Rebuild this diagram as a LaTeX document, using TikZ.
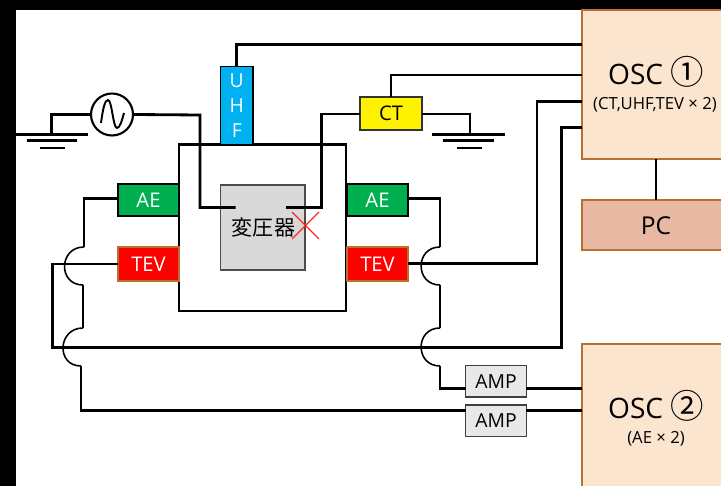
\documentclass[tikz,border=0pt]{standalone}
\usepackage{fontspec}
\setmainfont{Open Sans}
\newfontfamily\cjk{Noto Sans CJK JP}
\usepackage{xcolor}
\definecolor{oscfill}{HTML}{FBE5CE}
\definecolor{oscline}{HTML}{B8702F}
\definecolor{pcfill}{HTML}{E9B8A2}
\definecolor{ampfill}{HTML}{E7E9E6}
\definecolor{aegreen}{HTML}{00B050}
\definecolor{uhfblue}{HTML}{00B0F0}
\definecolor{coregray}{HTML}{D9D9D9}

\begin{document}
\begin{tikzpicture}[
    x=0.02cm, y=-0.02cm,
    box/.style={rectangle, draw=black, line width=1pt, inner sep=0pt, outer sep=0pt, align=center},
    sensor/.style={box, minimum width=1.22cm, font=\fontsize{11.5}{13}\selectfont},
    osc/.style={box, draw=oscline, fill=oscfill, minimum width=3cm},
    amp/.style={box, draw=black!75, fill=ampfill, minimum width=1.22cm, minimum height=0.63cm, font=\fontsize{11}{13}\selectfont},
    wire/.style={line width=1.6pt, line join=miter},
    jump/.style={line width=0.9pt, looseness=1.7},
    earth/.style={line width=1.6pt},
]

% page frame
\useasboundingbox (0,0) rectangle (721,486);
\fill[black] (0,0) rectangle (721,10);
\fill[black] (0,0) rectangle (16,486);

% oscilloscopes and pc
\begin{scope}
\clip (16,10) rectangle (721,486);
\node[osc, minimum height=2.98cm, anchor=north west] (osca) at (582,10) {};
\node[osc, fill=pcfill, minimum height=1cm, anchor=north west] (pc) at (582,200) {};
\node[osc, minimum height=3.2cm, anchor=north west] (oscb) at (582,344) {};
\end{scope}
\node[font=\fontsize{16}{18}\selectfont] (oscatitle) at (656,72) {OSC {\cjk\fontsize{19}{19}\selectfont ①}};
\node[font=\fontsize{9.5}{11}\selectfont] (oscasub) at (655,105) {(CT,UHF,TEV × 2)};
\node[font=\fontsize{14}{16}\selectfont] (pclabel) at (656,226) {PC};
\node[font=\fontsize{16}{18}\selectfont] (oscbtitle) at (656,406) {OSC {\cjk\fontsize{19}{19}\selectfont ②}};
\node[font=\fontsize{9.5}{11}\selectfont] (oscbsub) at (656,439) {(AE × 2)};

% tank and core
\node[box, line width=1.6pt, minimum width=3.34cm, minimum height=3.33cm, anchor=north west] (tank) at (179,144.5) {};
\node[box, draw=black!70, fill=coregray, minimum width=1.69cm, minimum height=1.7cm, anchor=north west] (core) at (220.5,185) {};
\node[font=\fontsize{12}{14}\cjk\selectfont, inner sep=0pt] (corelabel) at (263.5,228) {変圧器};

% sensors
\node[box, fill=uhfblue, text=white, minimum width=0.65cm, minimum height=1.56cm, anchor=south west, font=\fontsize{11}{14.3}\selectfont] (uhf) at (220.5,144.5) {U\\H\\F};
\node[sensor, fill=yellow, draw=black!80, minimum height=0.66cm, minimum width=1.24cm, anchor=north west] (ct) at (360,97) {CT};
\node[sensor, fill=aegreen, text=white, minimum height=0.64cm, anchor=north east] (aeleft) at (179,184) {AE};
\node[sensor, fill=aegreen, text=white, minimum height=0.64cm, anchor=north west] (aeright) at (347,184) {AE};
\node[sensor, fill=red, draw=oscline, text=white, minimum height=0.68cm, anchor=north east] (tevleft) at (179,247) {TEV};
\node[sensor, fill=red, draw=oscline, text=white, minimum height=0.68cm, anchor=north west] (tevright) at (347,247) {TEV};
\node[amp, anchor=north west] (ampa) at (465.5,365.5) {AMP};
\node[amp, anchor=north west] (ampb) at (465.5,405) {AMP};

% ac source
\node[circle, draw=black, line width=1.2pt, minimum size=0.84cm, inner sep=0pt] (source) at (112,114.5) {};
\draw[line width=1.1pt] (101,123) .. controls (103,108) and (105,100) .. (108,100) .. controls (112,100) and (113,128) .. (117,128) .. controls (120,128) and (122,120) .. (124,113);

% earth symbols
\coordinate (gnda) at (51.5,134.5);
\coordinate (gndb) at (470,134.5);
\draw[earth] (16,134.5) -- (88,134.5);
\draw[earth] (27,140.5) -- (77,140.5);
\draw[earth] (40,148) -- (65,148);
\draw[earth] (432,134.5) -- (505,134.5);
\draw[earth] (443,140.5) -- (494,140.5);
\draw[earth] (457,148) -- (482,148);

% winding ends
\coordinate (winda) at (235.5,207.5);
\coordinate (windb) at (285.5,207.5);

% jump points
\coordinate (jla) at (84,247);
\coordinate (jlb) at (83,285);
\coordinate (jlc) at (83,328);
\coordinate (jld) at (81,366);
\coordinate (jra) at (440,247);
\coordinate (jrb) at (440,285);
\coordinate (jrc) at (440,328);
\coordinate (jrd) at (440,366);

% wiring
\draw[wire] (source.west) -| (gnda);
\draw[wire] (source.east) -- (200,115) |- (winda);
\draw[wire] (windb) -- (321.5,207.5) |- (ct.west |- 0,114);
\draw[wire] (ct.east |- 0,114) -- (470,114) -- (gndb);
\draw[wire] (391,97) |- (osca.west |- 0,75);
\draw[wire] (236.5,66) |- (osca.west |- 0,44.5);
\draw[wire] (656,159) -- (656,200);
\draw[wire] (tevright.east |- 0,263.5) -- (537,263.5) |- (osca.west |- 0,101.5);
\draw[wire] (tevleft.west |- 0,264) -- (52.5,264) -- (52.5,347.5) -- (561.5,347.5) |- (osca.west |- 0,127.5);

\draw[wire] (aeleft.west |- 0,198.5) -| (jla);
\draw[wire] (jlb) -- (jlc);
\draw[wire] (jld) -- (81,410.5) -- (ampb.west |- 0,410.5);
\draw[jump] (jla) to[out=180, in=180] (jlb);
\draw[jump] (jlc) to[out=180, in=180] (jld);

\draw[wire] (aeright.east |- 0,198.5) -| (jra);
\draw[wire] (jrb) -- (jrc);
\draw[wire] (jrd) |- (ampa.west |- 0,388.5);
\draw[jump] (jra) to[out=180, in=180] (jrb);
\draw[jump] (jrc) to[out=180, in=180] (jrd);

\draw[wire] (ampa.east |- 0,388.5) -- (oscb.west |- 0,388.5);
\draw[wire] (ampb.east |- 0,410.5) -- (oscb.west |- 0,410.5);

% fault mark
\draw[red!85!white, line width=0.8pt] (292,212) -- (319,239) (319,212) -- (292,239);

\end{tikzpicture}
\end{document}
